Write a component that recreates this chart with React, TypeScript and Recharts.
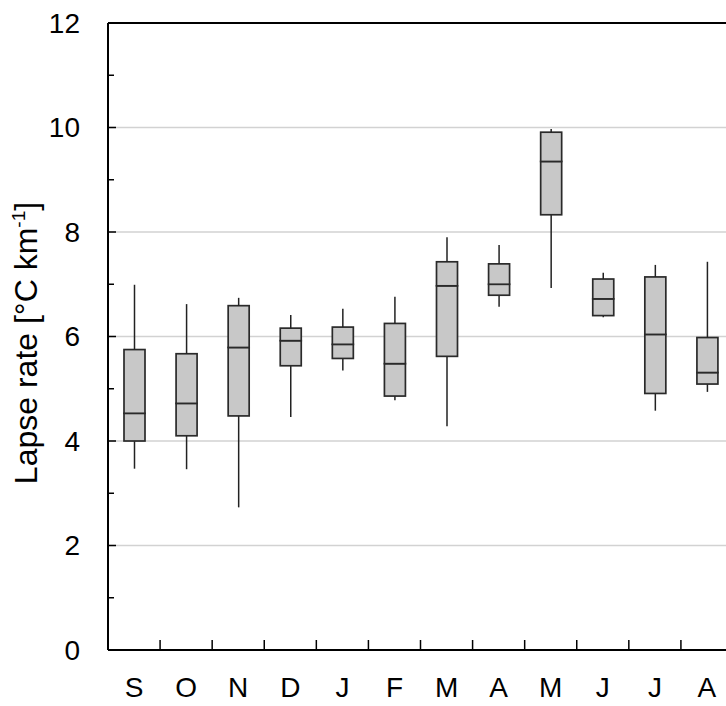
import {
  Bar,
  CartesianGrid,
  ComposedChart,
  ReferenceLine,
  XAxis,
  YAxis,
} from "recharts";

const months = ["S", "O", "N", "D", "J", "F", "M", "A", "M", "J", "J", "A"];
const whiskerLow = [3.47, 3.46, 2.73, 4.46, 5.35, 4.78, 4.28, 6.57, 6.93, 6.37, 4.58, 4.94];
const q1 = [4.0, 4.1, 4.48, 5.44, 5.58, 4.86, 5.62, 6.79, 8.33, 6.4, 4.91, 5.09];
const median = [4.53, 4.72, 5.79, 5.92, 5.85, 5.48, 6.97, 7.0, 9.35, 6.72, 6.04, 5.31];
const q3 = [5.75, 5.67, 6.59, 6.16, 6.18, 6.25, 7.43, 7.39, 9.91, 7.1, 7.14, 5.98];
const whiskerHigh = [6.99, 6.62, 6.74, 6.41, 6.53, 6.76, 7.9, 7.75, 9.97, 7.22, 7.37, 7.43];
const yTicks = [0, 1, 2, 3, 4, 5, 6, 7, 8, 9, 10, 11, 12];
const gridValues = [2, 4, 6, 8, 10];

const FONT = '"Liberation Sans", Arial, sans-serif';
const CHART_W = 740;
const CHART_H = 706;
const PLOT_LEFT = 108;
const MARGIN = { top: 23, right: 7, left: 0, bottom: 0 };
const X_AXIS_H = 56;
const PLOT_BOTTOM = CHART_H - X_AXIS_H;
const CAT_W = (CHART_W - MARGIN.right - PLOT_LEFT) / months.length;

// stacked segments: invisible base, lower whisker, lower box, upper box, upper whisker
const data = months.map((m, i) => ({
  id: `${m}${i}`,
  month: m,
  base: whiskerLow[i],
  lowWhisker: q1[i] - whiskerLow[i],
  boxLow: median[i] - q1[i],
  boxHigh: q3[i] - median[i],
  highWhisker: whiskerHigh[i] - q3[i],
}));

const Whisker = (props: any) => {
  const { x, y, width, height } = props;
  const cx = x + width / 2;
  return <line x1={cx} x2={cx} y1={y} y2={y + height} stroke="#222" strokeWidth={1.5} />;
};

const BoxPart = (props: any) => {
  const { x, y, width, height } = props;
  return (
    <rect
      x={x}
      y={y}
      width={width}
      height={height}
      fill="#c8c8c8"
      stroke="#2a2a2a"
      strokeWidth={1.7}
    />
  );
};

const YTick = (props: any) => {
  const { y, payload } = props;
  const v = payload.value;
  const major = v % 2 === 0;
  return (
    <g>
      <line
        x1={PLOT_LEFT}
        x2={PLOT_LEFT + (major ? 8 : 6)}
        y1={y}
        y2={y}
        stroke="#000"
        strokeWidth={1.5}
      />
      {major && (
        <text
          x={80}
          y={y}
          textAnchor="end"
          dominantBaseline="central"
          fontSize={28}
          fontFamily={FONT}
          fill="#000"
        >
          {v}
        </text>
      )}
    </g>
  );
};

const XTick = (props: any) => {
  const { x, index } = props;
  const left = x - CAT_W / 2;
  return (
    <g>
      <line
        x1={left}
        x2={left}
        y1={PLOT_BOTTOM}
        y2={PLOT_BOTTOM - 10}
        stroke="#000"
        strokeWidth={1.5}
      />
      <text
        x={x}
        y={PLOT_BOTTOM + 47}
        textAnchor="middle"
        fontSize={28}
        fontFamily={FONT}
        fill="#000"
      >
        {months[index]}
      </text>
    </g>
  );
};

const YLabel = () => (
  <text
    x={37}
    y={343}
    transform="rotate(-90 37 343)"
    textAnchor="middle"
    fontSize={32}
    fontFamily={FONT}
    fill="#000"
  >
    Lapse rate [°C km
    <tspan dy={-12} fontSize={19}>
      -1
    </tspan>
    <tspan dy={12}>]</tspan>
  </text>
);

export default function App() {
  return (
    <div
      style={{
        position: "absolute",
        left: 0,
        top: 0,
        width: 726,
        height: 706,
        overflow: "hidden",
        background: "#fff",
      }}
    >
      <ComposedChart width={CHART_W} height={CHART_H} data={data} margin={MARGIN} barSize={21}>
        <CartesianGrid
          vertical={false}
          horizontalValues={gridValues}
          stroke="#d2d2d2"
          strokeWidth={1.5}
        />
        <XAxis
          dataKey="id"
          type="category"
          height={X_AXIS_H}
          interval={0}
          tickLine={false}
          axisLine={{ stroke: "#000", strokeWidth: 2 }}
          tick={<XTick />}
        />
        <YAxis
          type="number"
          domain={[0, 12]}
          ticks={yTicks}
          interval={0}
          width={PLOT_LEFT}
          tickLine={false}
          axisLine={{ stroke: "#000", strokeWidth: 2 }}
          tick={<YTick />}
          label={<YLabel />}
        />
        <ReferenceLine y={12} stroke="#000" strokeWidth={2} />
        <Bar dataKey="base" stackId="box" fill="none" isAnimationActive={false} />
        <Bar dataKey="lowWhisker" stackId="box" shape={<Whisker />} isAnimationActive={false} />
        <Bar dataKey="boxLow" stackId="box" shape={<BoxPart />} isAnimationActive={false} />
        <Bar dataKey="boxHigh" stackId="box" shape={<BoxPart />} isAnimationActive={false} />
        <Bar dataKey="highWhisker" stackId="box" shape={<Whisker />} isAnimationActive={false} />
      </ComposedChart>
    </div>
  );
}
